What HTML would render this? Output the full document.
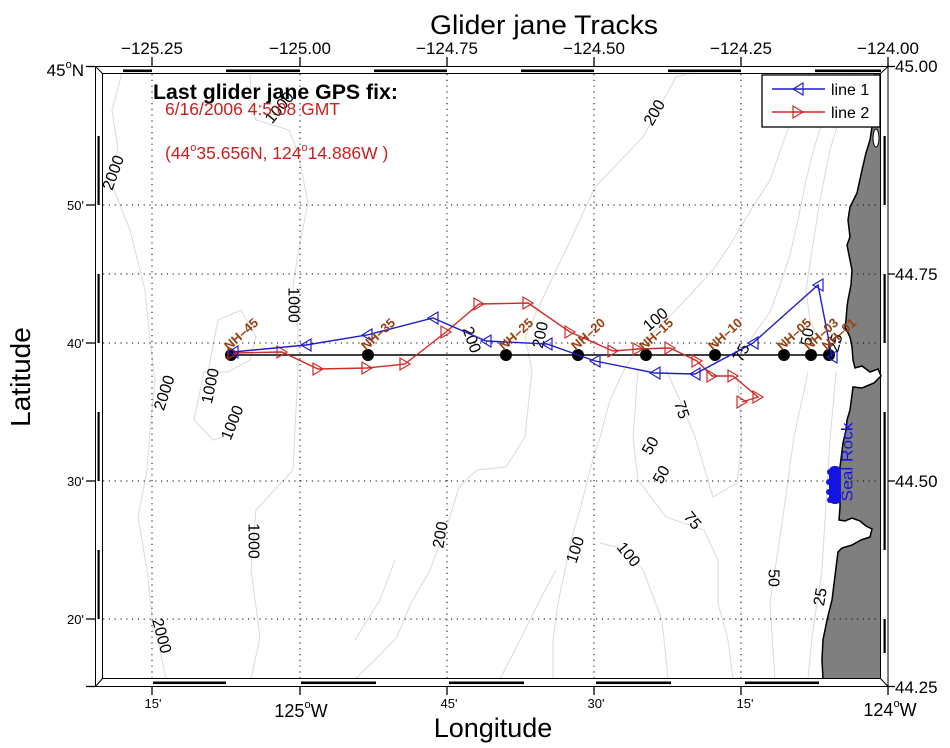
<!DOCTYPE html>
<html><head><meta charset="utf-8"><style>
html,body{margin:0;padding:0;background:#fff;}
svg{display:block;}
text{font-family:"Liberation Sans",Arial,sans-serif;}
</style></head><body>
<svg width="950" height="748" viewBox="0 0 950 748" xmlns="http://www.w3.org/2000/svg">
<rect x="0" y="0" width="950" height="748" fill="#fff"/>

<!-- contours -->
<g fill="none" stroke="#dadada" stroke-width="1">
<polyline points="122,73 112,110 118,150 108,175 130,230 145,290 150,340 155,380 150,430 147,470 138,517 147,570 152,617 160,650 166,679"/>
<polyline points="250,73 251,103 256,120 289,130 298,153 308,203 298,253 293,287 298,330 298,370 293,470 256,510 251,570 260,637 251,679"/>
<polyline points="208,372 218,320 241,310 256,337 250,360 228,372 204,372 194,420 213,440 223,437"/>
<polyline points="690,73 676,77 643,137 595,187 572,237 548,287 525,337 532,370 525,437 506,467 477,470 459,487 449,520 430,570 411,603 397,637 375,660 355,679"/>
<polyline points="810,73 795,110 784,140 770,180 751,210 730,245 713,270 690,295 666,320 640,345 624,370 610,400 600,437 590,470 580,510 572,537 565,570 558,603 553,640 553,679"/>
<polyline points="600,543 620,548 643,570 662,620 668,679"/>
<polyline points="838,73 826,110 815,145 806,180 798,220 790,255 780,285 770,312 750,340"/>
<polyline points="666,370 680,400 695,437 713,497 737,483 742,437 737,370"/>
<polyline points="638,370 633,437 638,480 666,517 704,530 718,560 718,603 728,640 733,679"/>
<polyline points="852,73 842,110 830,150 820,200 812,250 806,290 810,320 817,337"/>
<polyline points="808,372 794,437 780,537 770,603 775,679"/>
<polyline points="836,372 830,440 825,520 822,570 812,637 808,679"/>
<polyline points="500,679 520,640 540,600 556,570"/>
<polyline points="355,640 380,600 395,560"/>
</g>

<!-- contour labels -->
<g font-size="16" fill="#000" text-anchor="middle" dominant-baseline="central">
<text transform="translate(280,108) rotate(-50)">1000</text>
<text transform="translate(114,173) rotate(-70)">2000</text>
<text transform="translate(655,113) rotate(-60)">200</text>
<text transform="translate(293,305) rotate(90)">1000</text>
<text transform="translate(471,340) rotate(70)">200</text>
<text transform="translate(541,335) rotate(-78)">200</text>
<text transform="translate(656,320) rotate(-40)">100</text>
<text transform="translate(742,353) rotate(-62)">75</text>
<text transform="translate(808,337) rotate(-80)">50</text>
<text transform="translate(836,343) rotate(-75)">25</text>
<text transform="translate(681,410) rotate(72)">75</text>
<text transform="translate(651,446) rotate(-60)">50</text>
<text transform="translate(662,475) rotate(-60)">50</text>
<text transform="translate(692,521) rotate(50)">75</text>
<text transform="translate(628,555) rotate(50)">100</text>
<text transform="translate(576,550) rotate(-72)">100</text>
<text transform="translate(441,535) rotate(-80)">200</text>
<text transform="translate(253,541) rotate(90)">1000</text>
<text transform="translate(165,393) rotate(-72)">2000</text>
<text transform="translate(211,386) rotate(-78)">1000</text>
<text transform="translate(233,423) rotate(-68)">1000</text>
<text transform="translate(773,578) rotate(90)">50</text>
<text transform="translate(821,597) rotate(-80)">25</text>
<text transform="translate(161,636) rotate(75)">2000</text>
</g>

<!-- land -->
<path d="M875,73 L874,100 L872,127 L870,140 L866,153 L862,170 L857,193 L850,207 L848,220 L850,237 L847,245 L850,260 L852,270 L851,285 L848,300 L847,307 L846,320 L845,327 L850,337 L852,347 L853,360 L855,368 L862,366 L870,372 L878,369 L881,376 L874,383 L862,388 L853,387 L852,395 L850,410 L847,420 L846,430 L843,443 L840,467 L840,507 L839,520 L845,521 L852,518 L860,521 L866,526 L872,529 L870,537 L861,540 L852,545 L842,548 L838,552 L837,560 L832,600 L827,620 L823,640 L822,660 L823,679 L881,679 L881,73 Z" fill="#7f7f7f"/>
<polyline fill="none" stroke="#000" stroke-width="1.5" points="875,73 874,100 872,127 870,140 866,153 862,170 857,193 850,207 848,220 850,237 847,245 850,260 852,270 851,285 848,300 847,307 846,320 845,327 850,337 852,347 853,360 855,368 862,366 870,372 878,369 881,376 874,383 862,388 853,387 852,395 850,410 847,420 846,430 843,443 840,467 840,507 839,520 845,521 852,518 860,521 866,526 872,529 870,537 861,540 852,545 842,548 838,552 837,560 832,600 827,620 823,640 822,660 823,679"/>
<ellipse cx="876" cy="138" rx="3" ry="9" fill="#fff" stroke="#000" stroke-width="1"/>

<!-- grid -->
<g stroke="#000" stroke-width="1" stroke-dasharray="1.2 4.6" fill="none">
<line x1="152" y1="74" x2="152" y2="678"/>
<line x1="300" y1="74" x2="300" y2="678"/>
<line x1="447" y1="74" x2="447" y2="678"/>
<line x1="594" y1="74" x2="594" y2="678"/>
<line x1="741" y1="74" x2="741" y2="678"/>
<line x1="103" y1="205" x2="880" y2="205"/>
<line x1="103" y1="274" x2="880" y2="274"/>
<line x1="103" y1="343" x2="880" y2="343"/>
<line x1="103" y1="481" x2="880" y2="481"/>
<line x1="103" y1="619" x2="880" y2="619"/>
</g>

<!-- Seal Rock -->
<rect x="829" y="466" width="12" height="38" rx="5" fill="#1414e0"/>
<circle cx="830" cy="472" r="3" fill="#1414e0"/><circle cx="829" cy="482" r="3" fill="#1414e0"/><circle cx="829" cy="492" r="3" fill="#1414e0"/><circle cx="830" cy="500" r="3" fill="#1414e0"/>
<text transform="translate(848,462) rotate(-90)" font-size="16" fill="#1414e0" text-anchor="middle" dominant-baseline="central" textLength="79" lengthAdjust="spacingAndGlyphs">Seal Rock</text>

<!-- black station line -->
<line x1="231" y1="355" x2="830" y2="355" stroke="#000" stroke-width="1.5"/>
<g fill="#000">
<circle cx="231" cy="355" r="6"/><circle cx="368" cy="355" r="6"/><circle cx="506" cy="355" r="6"/>
<circle cx="578" cy="355" r="6"/><circle cx="646" cy="355" r="6"/><circle cx="715" cy="355" r="6"/>
<circle cx="784" cy="355" r="6"/><circle cx="811" cy="355" r="6"/><circle cx="829" cy="355" r="6"/>
</g>

<!-- line 2 (red) -->
<polyline fill="none" stroke="#d12a2a" stroke-width="1.4" points="233,353 282,352 318,369 367,368 405,364 446,332 479,304 528,303 570,332 613,351 638,349 670,348 697,361 712,376 733,376 758,397 742,402"/>
<g fill="none" stroke="#d12a2a" stroke-width="1.2">
<path d="M238,353 L228,347 L228,359 Z"/>
<path d="M287,352 L277,346 L277,358 Z"/>
<path d="M323,369 L313,363 L313,375 Z"/>
<path d="M372,368 L362,362 L362,374 Z"/>
<path d="M410,364 L400,358 L400,370 Z"/>
<path d="M451,332 L441,326 L441,338 Z"/>
<path d="M484,304 L474,298 L474,310 Z"/>
<path d="M533,303 L523,297 L523,309 Z"/>
<path d="M575,332 L565,326 L565,338 Z"/>
<path d="M618,351 L608,345 L608,357 Z"/>
<path d="M643,349 L633,343 L633,355 Z"/>
<path d="M675,348 L665,342 L665,354 Z"/>
<path d="M702,361 L692,355 L692,367 Z"/>
<path d="M717,376 L707,370 L707,382 Z"/>
<path d="M738,376 L728,370 L728,382 Z"/>
<path d="M763,397 L753,391 L753,403 Z"/>
<path d="M747,402 L737,396 L737,408 Z"/>
</g>

<!-- line 1 (blue) -->
<polyline fill="none" stroke="#1f1fc8" stroke-width="1.4" points="832,357 818,285 753,343 695,374 655,373 595,361 547,344 486,341 433,318 367,335 306,345 233,352"/>
<g fill="none" stroke="#1f1fc8" stroke-width="1.2">
<path d="M827,357 L837,351 L837,363 Z"/>
<path d="M813,285 L823,279 L823,291 Z"/>
<path d="M748,343 L758,337 L758,349 Z"/>
<path d="M690,374 L700,368 L700,380 Z"/>
<path d="M650,373 L660,367 L660,379 Z"/>
<path d="M590,361 L600,355 L600,367 Z"/>
<path d="M542,344 L552,338 L552,350 Z"/>
<path d="M481,341 L491,335 L491,347 Z"/>
<path d="M428,318 L438,312 L438,324 Z"/>
<path d="M362,335 L372,329 L372,341 Z"/>
<path d="M301,345 L311,339 L311,351 Z"/>
<path d="M228,352 L238,346 L238,358 Z"/>
</g>

<!-- station labels -->
<g font-size="13" font-weight="bold" fill="#983f12">
<text transform="translate(229,351) rotate(-42)">NH–45</text>
<text transform="translate(366,351) rotate(-42)">NH–35</text>
<text transform="translate(504,351) rotate(-42)">NH–25</text>
<text transform="translate(576,351) rotate(-42)">NH–20</text>
<text transform="translate(644,351) rotate(-42)">NH–15</text>
<text transform="translate(713,351) rotate(-42)">NH–10</text>
<text transform="translate(782,351) rotate(-42)">NH–05</text>
<text transform="translate(809,351) rotate(-42)">NH–03</text>
<text transform="translate(827,351) rotate(-42)">NH–01</text>
</g>

<!-- info text -->
<text x="153" y="99" font-size="20.8" font-weight="bold" fill="#000" textLength="245" lengthAdjust="spacingAndGlyphs">Last glider jane GPS fix:</text>
<text x="165" y="115" font-size="17.5" fill="#cc1f1f" textLength="175" lengthAdjust="spacingAndGlyphs">6/16/2006 4:5:08 GMT</text>
<text x="165" y="159" font-size="17.5" fill="#cc1f1f">(44<tspan font-size="11" dy="-8">o</tspan><tspan dy="8">35.656N, 124</tspan><tspan font-size="11" dy="-8">o</tspan><tspan dy="8">14.886W )</tspan></text>

<!-- legend -->
<rect x="762" y="75" width="118" height="52" fill="#fff" stroke="#000" stroke-width="1.3"/>
<line x1="772" y1="89" x2="825" y2="89" stroke="#1f1fc8" stroke-width="1.4"/>
<path d="M793,89 L803,83 L803,95 Z" fill="none" stroke="#1f1fc8" stroke-width="1.2"/>
<line x1="772" y1="112" x2="825" y2="112" stroke="#d12a2a" stroke-width="1.4"/>
<path d="M803,112 L793,106 L793,118 Z" fill="none" stroke="#d12a2a" stroke-width="1.2"/>
<text x="831" y="95" font-size="16" fill="#000">line 1</text>
<text x="831" y="118" font-size="16" fill="#000">line 2</text>

<!-- fancy frame -->
<g fill="none" stroke="#000" stroke-width="1">
<rect x="95.5" y="66.5" width="792.5" height="620"/>
<rect x="102.5" y="73.5" width="778" height="605"/>
<line x1="95.5" y1="66.5" x2="102.5" y2="73.5"/>
<line x1="888" y1="66.5" x2="880.5" y2="73.5"/>
<line x1="95.5" y1="686.5" x2="102.5" y2="678.5"/>
<line x1="888" y1="686.5" x2="880.5" y2="678.5"/>
</g>
<g fill="#000">
<rect x="123" y="69.5" width="29" height="2.6"/>
<rect x="226" y="69.5" width="74" height="2.6"/>
<rect x="374" y="69.5" width="73" height="2.6"/>
<rect x="521" y="69.5" width="73" height="2.6"/>
<rect x="668" y="69.5" width="73" height="2.6"/>
<rect x="815" y="69.5" width="66" height="2.6"/>
<rect x="153" y="681.5" width="73" height="2.6"/>
<rect x="301" y="681.5" width="75" height="2.6"/>
<rect x="449" y="681.5" width="75" height="2.6"/>
<rect x="596" y="681.5" width="75" height="2.6"/>
<rect x="745" y="681.5" width="74" height="2.6"/>
<rect x="97.5" y="136" width="2.2" height="69"/>
<rect x="97.5" y="274" width="2.2" height="69"/>
<rect x="97.5" y="412" width="2.2" height="69"/>
<rect x="97.5" y="550" width="2.2" height="69"/>
<rect x="883.5" y="136" width="2.2" height="69"/>
<rect x="883.5" y="274" width="2.2" height="69"/>
<rect x="883.5" y="412" width="2.2" height="138"/>
<rect x="883.5" y="619" width="2.2" height="34"/>
</g>

<!-- ticks -->
<g stroke="#000" stroke-width="1.3">
<line x1="152" y1="57" x2="152" y2="66"/><line x1="300" y1="57" x2="300" y2="66"/><line x1="447" y1="57" x2="447" y2="66"/>
<line x1="594" y1="57" x2="594" y2="66"/><line x1="741" y1="57" x2="741" y2="66"/><line x1="888" y1="57" x2="888" y2="66"/>
<line x1="152" y1="687" x2="152" y2="695"/><line x1="300" y1="687" x2="300" y2="695"/><line x1="447" y1="687" x2="447" y2="695"/>
<line x1="594" y1="687" x2="594" y2="695"/><line x1="741" y1="687" x2="741" y2="695"/><line x1="888" y1="687" x2="888" y2="695"/>
<line x1="86" y1="66.5" x2="95" y2="66.5"/><line x1="86" y1="205" x2="95" y2="205"/><line x1="86" y1="343" x2="95" y2="343"/>
<line x1="86" y1="481" x2="95" y2="481"/><line x1="86" y1="619" x2="95" y2="619"/><line x1="86" y1="686.5" x2="95" y2="686.5"/>
<line x1="888" y1="66.5" x2="895" y2="66.5"/><line x1="888" y1="274" x2="895" y2="274"/><line x1="888" y1="481" x2="895" y2="481"/><line x1="888" y1="686.5" x2="895" y2="686.5"/>
</g>

<!-- tick labels -->
<g font-size="17" fill="#000" text-anchor="middle">
<text x="152" y="54">−125.25</text>
<text x="300" y="54">−125.00</text>
<text x="447" y="54">−124.75</text>
<text x="594" y="54">−124.50</text>
<text x="741" y="54">−124.25</text>
<text x="888" y="54">−124.00</text>
</g>
<g font-size="17" fill="#000">
<text x="895" y="72">45.00</text>
<text x="895" y="280">44.75</text>
<text x="895" y="487">44.50</text>
<text x="895" y="693">44.25</text>
</g>
<text x="84" y="76" font-size="17" fill="#000" text-anchor="end">45<tspan font-size="11" dy="-8">o</tspan><tspan dy="8">N</tspan></text>
<g font-size="13" fill="#000" text-anchor="end">
<text x="84" y="210">50'</text>
<text x="84" y="348">40'</text>
<text x="84" y="486">30'</text>
<text x="84" y="624">20'</text>
</g>
<g font-size="13" fill="#000" text-anchor="middle">
<text x="153" y="708">15'</text>
<text x="449" y="708">45'</text>
<text x="596" y="708">30'</text>
<text x="745" y="708">15'</text>
</g>
<g font-size="18" fill="#000" text-anchor="middle">
<text x="301" y="717">125<tspan font-size="11" dy="-9">o</tspan><tspan dy="9">W</tspan></text>
<text x="890" y="716">124<tspan font-size="11" dy="-9">o</tspan><tspan dy="9">W</tspan></text>
</g>

<!-- titles -->
<text x="544" y="34" font-size="27" fill="#000" text-anchor="middle" textLength="228" lengthAdjust="spacingAndGlyphs">Glider jane Tracks</text>
<text x="493" y="737" font-size="27" fill="#000" text-anchor="middle">Longitude</text>
<text transform="translate(30,377) rotate(-90)" font-size="28" fill="#000" text-anchor="middle">Latitude</text>
</svg>
</body></html>
